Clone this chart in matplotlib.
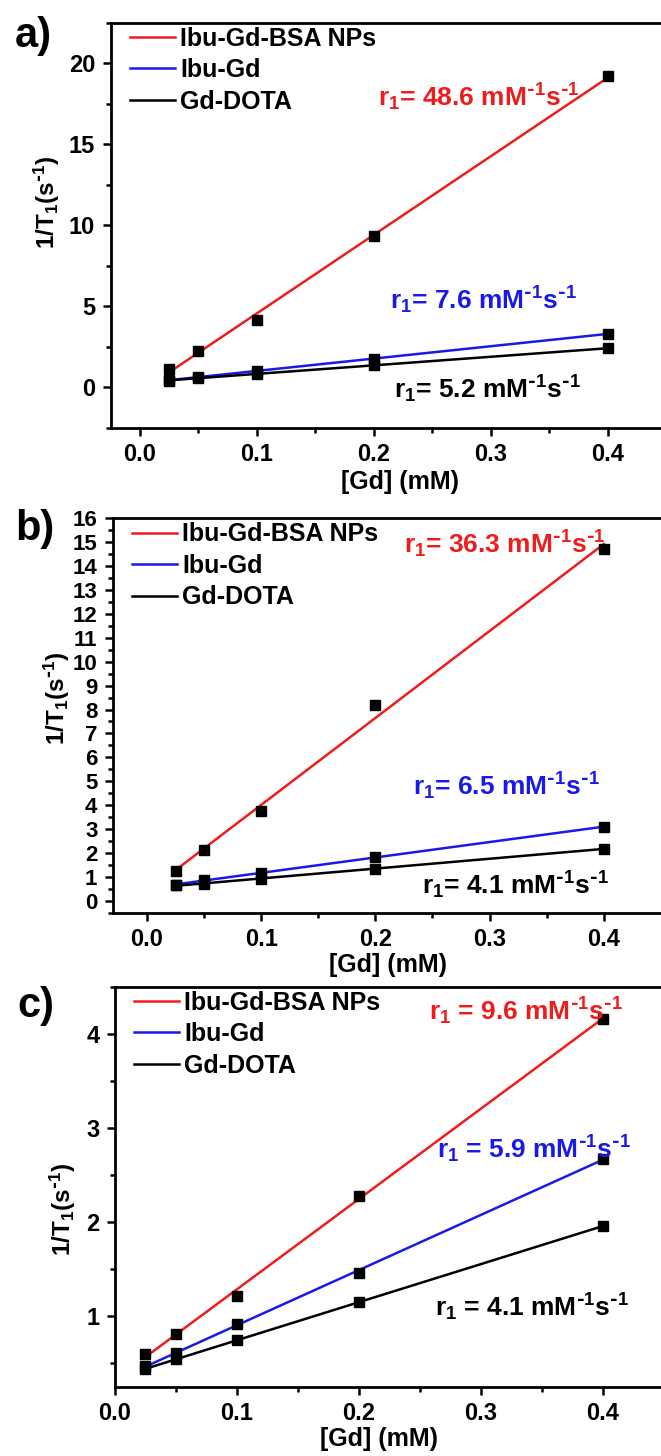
import numpy as np
import matplotlib
matplotlib.use('Agg')
import matplotlib.pyplot as plt

plt.rcParams['font.family'] = ['Liberation Sans', 'DejaVu Sans']
plt.rcParams['font.weight'] = 'bold'
plt.rcParams['mathtext.default'] = 'regular'

# data
gd = [0.025, 0.05, 0.1, 0.2, 0.4]
series_names = ['Ibu-Gd-BSA NPs', 'Ibu-Gd', 'Gd-DOTA']
series_colors = ['#ee1c1c', '#1a1ae6', '#000000']

a_bsa = [1.13, 2.26, 4.16, 9.36, 19.2]
a_ibu = [0.45, 0.62, 1.0, 1.75, 3.3]
a_dota = [0.41, 0.58, 0.82, 1.34, 2.41]

b_bsa = [1.26, 2.11, 3.76, 8.2, 14.72]
b_ibu = [0.68, 0.85, 1.15, 1.84, 3.09]
b_dota = [0.65, 0.72, 0.92, 1.33, 2.18]

c_bsa = [0.593, 0.812, 1.213, 2.275, 4.16]
c_ibu = [0.469, 0.61, 0.911, 1.46, 2.672]
c_dota = [0.44, 0.54, 0.741, 1.149, 1.956]

unit = r' mM$^{\text{-}1}$s$^{\text{-}1}$'
a_r1 = ['r$_1$= 48.6' + unit, 'r$_1$= 7.6' + unit, 'r$_1$= 5.2' + unit]
b_r1 = ['r$_1$= 36.3' + unit, 'r$_1$= 6.5' + unit, 'r$_1$= 4.1' + unit]
c_r1 = ['r$_1$ = 9.6' + unit, 'r$_1$ = 5.9' + unit, 'r$_1$ = 4.1' + unit]

x_ticks = [0.0, 0.1, 0.2, 0.3, 0.4]


def panel(fig, rect, ys, r1, r1_pos, xlim, ylim, ymajor, ylab_xy, xlab_xy,
          ytick_size=17):
    ax = fig.add_axes(rect)
    for y, name, col in zip(ys, series_names, series_colors):
        k, b = np.polyfit(gd, y, 1)
        xf = np.array([gd[0], gd[-1]])
        ax.plot(xf, k * xf + b, color=col, lw=1.8, label=name, zorder=2)
        ax.plot(gd, y, 's', color='black', ms=6.5, zorder=3)
    for txt, (tx, ty), col in zip(r1, r1_pos, series_colors):
        ax.text(tx, ty, txt, color=col, fontsize=19, fontweight='bold',
                ha='center', va='center')
    ax.set_xlim(*xlim)
    ax.set_ylim(*ylim)
    ax.set_xticks(x_ticks)
    ax.set_xticks(np.arange(0.05, 0.45, 0.1), minor=True)
    ax.set_xticklabels(['%.1f' % t for t in x_ticks])
    yt = np.arange(np.ceil(ylim[0] / ymajor) * ymajor, ylim[1] + 1e-9, ymajor)
    ax.set_yticks(yt)
    ax.set_yticks(np.arange(yt[0] - ymajor / 2, ylim[1] + 1e-9, ymajor),
                  minor=True)
    ax.set_yticklabels(['%d' % round(t) for t in yt])
    ax.tick_params(which='both', direction='out', width=1.8, top=False,
                   right=False)
    ax.tick_params(which='major', length=6, pad=5)
    ax.tick_params(which='minor', length=3.5)
    ax.tick_params(axis='x', labelsize=17)
    ax.tick_params(axis='y', labelsize=ytick_size)
    for s in ax.spines.values():
        s.set_linewidth(2)
    ax.set_xlabel('[Gd] (mM)', fontsize=18, fontweight='bold', va='center')
    ax.xaxis.set_label_coords(*xlab_xy)
    ax.set_ylabel(r'1/T$_1$(s$^{\text{-}1}$)', fontsize=17.5,
                  fontweight='bold', va='center')
    ax.yaxis.set_label_coords(*ylab_xy)
    ax.legend(loc='upper left', bbox_to_anchor=(0.035, 0.99), frameon=False,
              fontsize=18, handlelength=1.8, handletextpad=0.2,
              labelspacing=0.3, borderpad=0, borderaxespad=0)
    return ax


fig = plt.figure(figsize=(6.61, 14.56), dpi=100)

panel(fig, [0.1672, 0.70625, 0.8409, 0.27816], [a_bsa, a_ibu, a_dota], a_r1,
      [(0.29, 17.9), (0.294, 5.35), (0.297, -0.1)],
      (-0.025, 0.45), (-2.5, 22.5), 5, (-0.114, 0.557), (0.521, -0.135))
panel(fig, [0.1705, 0.37314, 0.838, 0.27088], [b_bsa, b_ibu, b_dota], b_r1,
      [(0.3135, 14.9), (0.315, 4.78), (0.323, 0.65)],
      (-0.03, 0.455), (0, 16), 1, (-0.1006, 0.543), (0.497, -0.1326),
      ytick_size=16)
panel(fig, [0.1735, 0.0476, 0.8398, 0.2747], [c_bsa, c_ibu, c_dota], c_r1,
      [(0.337, 4.24), (0.344, 2.77), (0.342, 1.09)],
      (0.0, 0.455), (0.25, 4.5), 1, (-0.093, 0.442), (0.477, -0.131))

for lab, x, y in [('a)', 0.0227, 0.9677), ('b)', 0.0227, 0.629),
                  ('c)', 0.0257, 0.3015)]:
    fig.text(x, y, lab, fontsize=30, fontweight='bold', ha='left',
             va='baseline')

fig.savefig('out.png', dpi=100)
